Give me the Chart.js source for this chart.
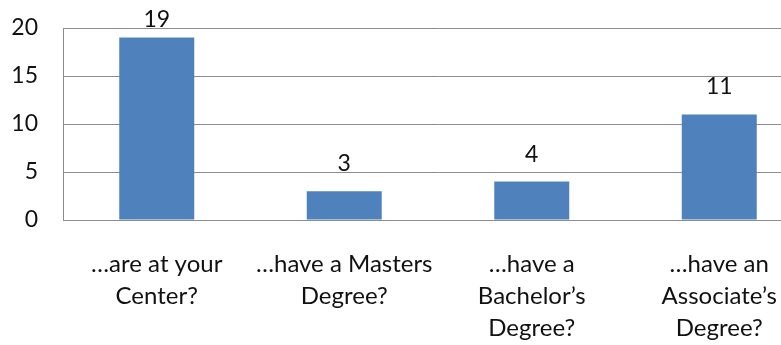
<!DOCTYPE html>
<html>
<head>
<meta charset="utf-8">
<script src="https://cdn.jsdelivr.net/npm/chart.js@4"></script>
<style>
  html, body { margin: 0; padding: 0; background: #fff; overflow: hidden; }
  #wrap { width: 781px; height: 345px; overflow: hidden; }
</style>
</head>
<body>
<div id="wrap"><canvas id="barChart" width="813" height="345"></canvas></div>
<script>
const categories = [
  ["…are at your", "Center?"],
  ["…have a Masters", "Degree?"],
  ["…have a", "Bachelor’s", "Degree?"],
  ["…have an", "Associate’s", "Degree?"]
];
const counts = [19, 3, 4, 11];
const yTicks = [0, 5, 10, 15, 20];

const FONT = "Lato, 'Open Sans', sans-serif";

// value labels sitting above each bar, kept inside the top of the canvas
const valueLabels = {
  id: "valueLabels",
  afterDatasetsDraw(chart) {
    const ctx = chart.ctx;
    const meta = chart.getDatasetMeta(0);
    ctx.save();
    ctx.font = "23px " + FONT;
    ctx.fillStyle = "#111";
    ctx.textAlign = "center";
    ctx.textBaseline = "alphabetic";
    meta.data.forEach((bar, i) => {
      const y = Math.max(bar.y - 20, 27);
      ctx.fillText(String(counts[i]), bar.x, y);
    });
    ctx.restore();
  }
};

const ctx = document.getElementById("barChart").getContext("2d");
new Chart(ctx, {
  type: "bar",
  data: {
    labels: categories,
    datasets: [{
      data: counts,
      backgroundColor: "#4f81bd",
      borderWidth: 0,
      categoryPercentage: 0.4,
      barPercentage: 1
    }]
  },
  options: {
    responsive: false,
    animation: false,
    layout: { padding: { top: 28, left: 0, right: 0, bottom: 0 } },
    plugins: {
      legend: { display: false },
      tooltip: { enabled: false }
    },
    scales: {
      x: {
        grid: { display: false, drawTicks: false },
        border: { display: true, color: "#8c8c8c", width: 1 },
        ticks: {
          color: "#111",
          padding: 28,
          maxRotation: 0,
          autoSkip: false,
          font: { family: FONT, size: 24, lineHeight: 1.34 }
        },
        afterFit(scale) { scale.height = 125; }
      },
      y: {
        min: 0,
        max: 20,
        afterBuildTicks(scale) { scale.ticks = yTicks.map(v => ({ value: v })); },
        grid: { color: "#8c8c8c", lineWidth: 1, drawTicks: false },
        border: { display: true, color: "#8c8c8c", width: 1 },
        ticks: {
          color: "#111",
          padding: 25,
          font: { family: FONT, size: 23 }
        },
        afterFit(scale) {
          scale.width = 63;
          scale.paddingTop = 0;
          scale.paddingBottom = 0;
        }
      }
    }
  },
  plugins: [valueLabels]
});
</script>
</body>
</html>
